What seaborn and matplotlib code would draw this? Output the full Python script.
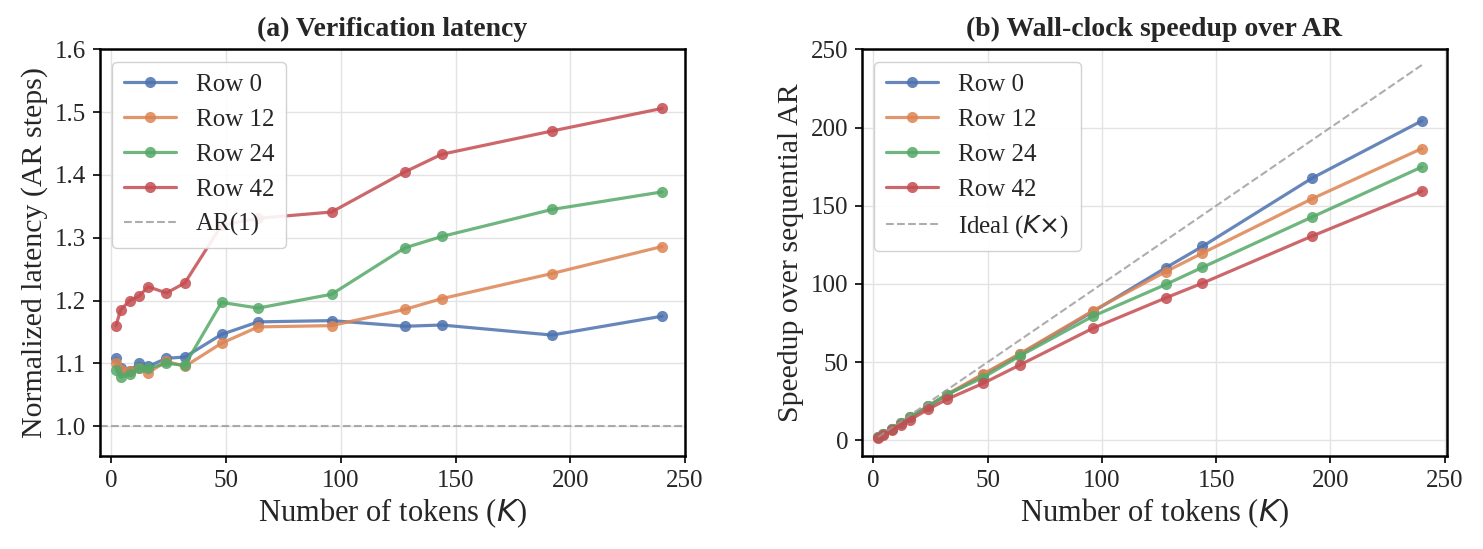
import pandas as pd
import seaborn as sns
import matplotlib.pyplot as plt
import numpy as np

# number of tokens K
tokens = [2, 4, 8, 12, 16, 24, 32, 48, 64, 96, 128, 144, 192, 240]
rows = ["Row 0", "Row 12", "Row 24", "Row 42"]

# normalized verification latency (AR steps)
lat_row0 = [1.108, 1.092, 1.088, 1.100, 1.095, 1.108, 1.110, 1.146, 1.166, 1.168, 1.159, 1.161, 1.145, 1.175]
lat_row12 = [1.100, 1.090, 1.087, 1.092, 1.085, 1.103, 1.095, 1.132, 1.158, 1.160, 1.186, 1.203, 1.243, 1.286]
lat_row24 = [1.090, 1.078, 1.083, 1.092, 1.092, 1.100, 1.097, 1.197, 1.188, 1.210, 1.284, 1.302, 1.345, 1.373]
lat_row42 = [1.160, 1.185, 1.200, 1.207, 1.222, 1.212, 1.228, 1.320, 1.331, 1.341, 1.405, 1.433, 1.470, 1.506]

# wall-clock speedup over sequential AR
spd_row0 = [1.8, 3.7, 7.4, 10.9, 14.6, 21.7, 28.8, 41.9, 54.9, 82.2, 110.4, 124.0, 167.7, 204.3]
spd_row12 = [1.8, 3.7, 7.4, 11.0, 14.7, 21.8, 29.2, 42.4, 55.3, 82.8, 107.9, 119.7, 154.5, 186.6]
spd_row24 = [1.8, 3.7, 7.4, 11.0, 14.7, 21.8, 29.2, 40.1, 53.9, 79.3, 99.7, 110.6, 142.8, 174.8]
spd_row42 = [1.7, 3.4, 6.7, 9.9, 13.1, 19.8, 26.1, 36.4, 48.1, 71.6, 91.1, 100.5, 130.6, 159.4]

lat_df = pd.DataFrame({
    "K": tokens * 4,
    "value": lat_row0 + lat_row12 + lat_row24 + lat_row42,
    "row": np.repeat(rows, len(tokens)),
})
spd_df = pd.DataFrame({
    "K": tokens * 4,
    "value": spd_row0 + spd_row12 + spd_row24 + spd_row42,
    "row": np.repeat(rows, len(tokens)),
})

sns.set_theme(style="whitegrid", palette="deep")
plt.rcParams["font.family"] = ["Liberation Serif", "DejaVu Serif"]
plt.rcParams["mathtext.fontset"] = "dejavusans"
plt.rcParams["grid.color"] = "#e3e3e3"
plt.rcParams["axes.edgecolor"] = "black"
plt.rcParams["xtick.bottom"] = True
plt.rcParams["ytick.left"] = True

fig, axes = plt.subplots(1, 2, figsize=(14.83, 5.49), dpi=100)
fig.subplots_adjust(left=0.0674, right=0.9757, bottom=0.169, top=0.910, wspace=0.3026)


def style_axis(ax, title, ylabel):
    ax.set_title(title, fontsize=20, fontweight="bold", pad=10)
    ax.set_xlabel("Number of tokens ($K$)", fontsize=22, labelpad=3)
    ax.set_ylabel(ylabel, fontsize=21.5, labelpad=5)
    ax.tick_params(axis="both", labelsize=18, length=5, width=1.2, color="black", pad=5)
    for s in ax.spines.values():
        s.set_linewidth(1.8)
        s.set_color("black")
    ax.legend(loc="upper left", fontsize=18, frameon=True, framealpha=0.9,
              edgecolor="#cccccc", handlelength=2.1, handletextpad=0.8,
              borderpad=0.45, labelspacing=0.5)


ax = axes[0]
sns.lineplot(data=lat_df, x="K", y="value", hue="row", hue_order=rows, marker="o",
             markersize=8, markeredgewidth=0, linewidth=2.3, alpha=0.85, ax=ax)
ax.axhline(1.0, color="#999999", linestyle="--", linewidth=1.5, alpha=0.8, label="AR(1)")
ax.set_xlim(-5, 250)
ax.set_ylim(0.952, 1.6)
ax.set_yticks([1.0, 1.1, 1.2, 1.3, 1.4, 1.5, 1.6])
style_axis(ax, "(a) Verification latency", "Normalized latency (AR steps)")

ax = axes[1]
sns.lineplot(data=spd_df, x="K", y="value", hue="row", hue_order=rows, marker="o",
             markersize=8, markeredgewidth=0, linewidth=2.3, alpha=0.85, ax=ax)
ax.plot(tokens, tokens, color="#999999", linestyle="--", linewidth=1.5, alpha=0.8,
        label=r"Ideal ($K{\times}$)")
ax.set_xlim(-5, 251)
ax.set_ylim(-10.2, 250)
ax.set_yticks([0, 50, 100, 150, 200, 250])
style_axis(ax, "(b) Wall-clock speedup over AR", "Speedup over sequential AR")

plt.savefig("out.png", dpi=100)
